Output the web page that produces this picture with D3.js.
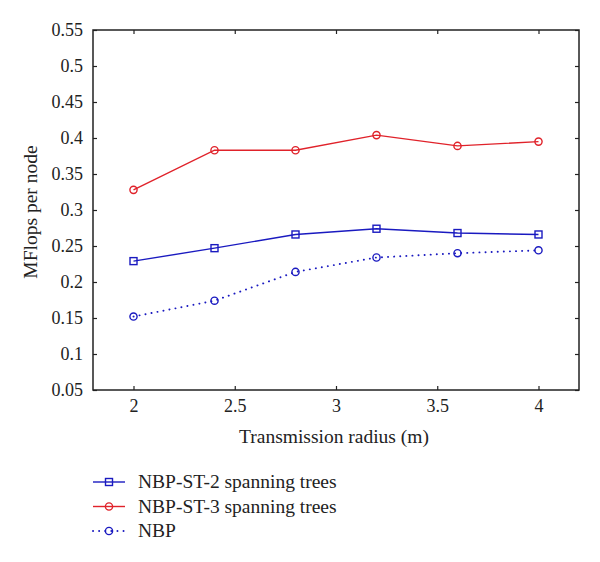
<!DOCTYPE html>
<html><head><meta charset="utf-8">
<script src="https://cdn.jsdelivr.net/npm/d3@7"></script>
<style>body{margin:0;background:#fff}svg{display:block}text{font-family:"Liberation Serif","DejaVu Serif",serif;fill:#222}</style>
</head><body>
<script>
const radius = [2, 2.4, 2.8, 3.2, 3.6, 4];
const st2 = [0.229, 0.247, 0.266, 0.274, 0.268, 0.266];
const st3 = [0.328, 0.383, 0.383, 0.404, 0.389, 0.395];
const nbp = [0.152, 0.174, 0.214, 0.234, 0.240, 0.244];
const xTicks = [2, 2.5, 3, 3.5, 4];
const yTicks = [0.05,0.1,0.15,0.2,0.25,0.3,0.35,0.4,0.45,0.5,0.55];
const seriesNames = ["NBP-ST-2 spanning trees", "NBP-ST-3 spanning trees", "NBP"];

const W=600,H=562, L=93,R=579,T=30,B=390;
const svg=d3.select("body").append("svg").attr("width",W).attr("height",H);
const x=d3.scaleLinear().domain([1.8,4.2]).range([L,R]);
const y=d3.scaleLinear().domain([0.05,0.55]).range([B,T]);
const fmt=d=>String(+d.toFixed(2));
const axC="#222";
function styleAx(g){g.select(".domain").remove();g.selectAll("line").attr("stroke",axC).attr("stroke-width",1.2);g.selectAll("text").style("font-size","18px").attr("fill","#222");}
svg.append("g").attr("transform",`translate(0,${B})`).call(d3.axisBottom(x).tickValues(xTicks).tickFormat(fmt).tickSizeInner(-4).tickSizeOuter(0).tickPadding(9)).call(styleAx);
svg.append("g").attr("transform",`translate(0,${T})`).call(d3.axisTop(x).tickValues(xTicks).tickFormat("").tickSizeInner(-4).tickSizeOuter(0)).call(styleAx);
svg.append("g").attr("transform",`translate(${L},0)`).call(d3.axisLeft(y).tickValues(yTicks).tickFormat(fmt).tickSizeInner(-4).tickSizeOuter(0).tickPadding(10)).call(styleAx);
svg.append("g").attr("transform",`translate(${R},0)`).call(d3.axisRight(y).tickValues(yTicks).tickFormat("").tickSizeInner(-4).tickSizeOuter(0)).call(styleAx);
svg.append("rect").attr("x",L).attr("y",T).attr("width",R-L).attr("height",B-T).attr("fill","none").attr("stroke",axC).attr("stroke-width",1.5);

svg.append("text").attr("x",(L+R)/2-2).attr("y",443).attr("text-anchor","middle").style("font-size","19.5px").text("Transmission radius (m)");
svg.append("text").attr("transform",`translate(37,${(T+B)/2+2}) rotate(-90)`).attr("text-anchor","middle").style("font-size","19.5px").text("MFlops per node");

const blue="#1a1ac0", red="#e0222a";
const series=[
 {name:seriesNames[0],vals:st2,color:blue,marker:"square",dash:null},
 {name:seriesNames[1],vals:st3,color:red,marker:"circle",dash:null},
 {name:seriesNames[2],vals:nbp,color:blue,marker:"circle",dash:"0.1,6"}
];
const line=d3.line().x((d,i)=>x(radius[i])).y(d=>y(d));
function marker(g,type,cx,cy,color){
  if(type==="square") g.append("rect").attr("x",cx-3.5).attr("y",cy-3.5).attr("width",7).attr("height",7).attr("fill","none").attr("stroke",color).attr("stroke-width",1.4);
  else g.append("circle").attr("cx",cx).attr("cy",cy).attr("r",3.6).attr("fill","none").attr("stroke",color).attr("stroke-width",1.4);
}
series.forEach(s=>{
  const p=svg.append("path").datum(s.vals).attr("d",line).attr("fill","none").attr("stroke",s.color).attr("stroke-width",s.dash?1.9:1.4);
  if(s.dash) p.attr("stroke-dasharray",s.dash).attr("stroke-linecap","round");
  const g=svg.append("g");
  s.vals.forEach((v,i)=>marker(g,s.marker,x(radius[i]),y(v),s.color));
});
// legend
series.forEach((s,i)=>{
  const ly=482+i*24.5;
  const l=svg.append("line").attr("x1",93).attr("x2",125).attr("y1",ly).attr("y2",ly).attr("stroke",s.color).attr("stroke-width",s.dash?1.9:1.4);
  if(s.dash) l.attr("stroke-dasharray",s.dash).attr("stroke-linecap","round");
  marker(svg,s.marker,109,ly,s.color);
  svg.append("text").attr("x",138).attr("y",ly+6).style("font-size","19.5px").text(s.name);
});
</script>
</body></html>
